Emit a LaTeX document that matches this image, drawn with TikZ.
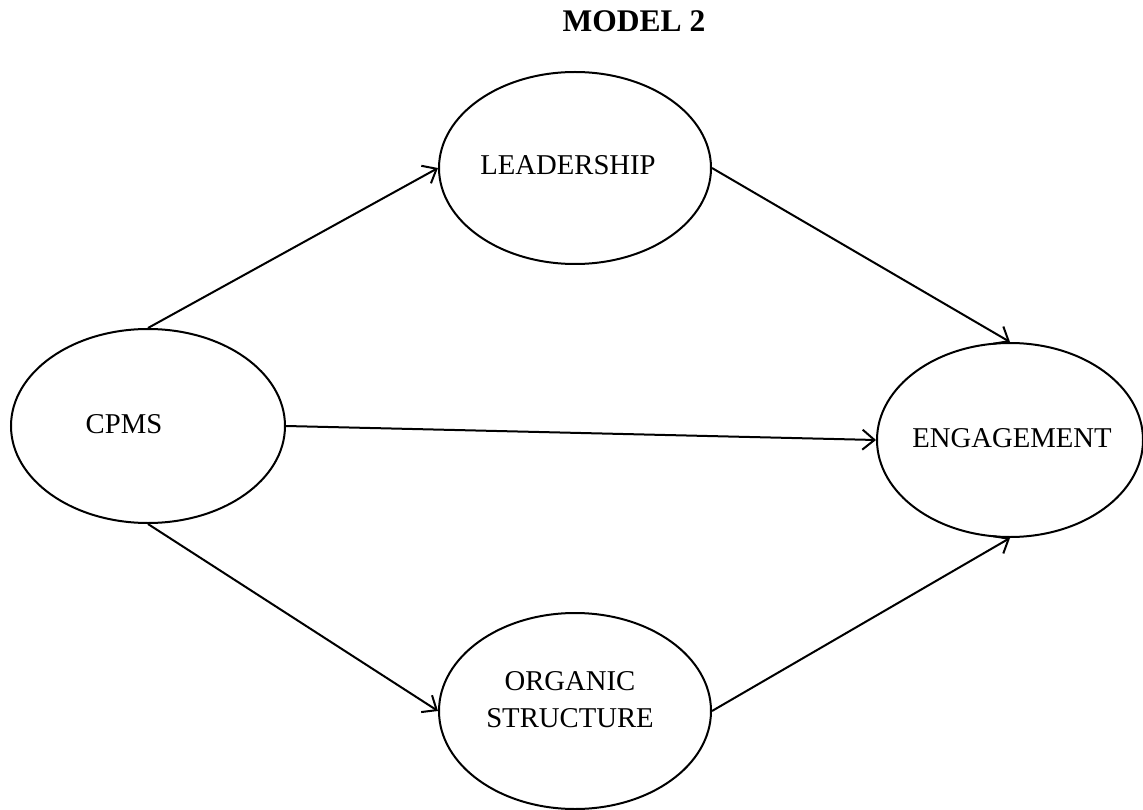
\documentclass[tikz,border=0pt]{standalone}
\usepackage{fontspec}
\setmainfont{Liberation Serif}
\usetikzlibrary{shapes.geometric,arrows.meta}

\tikzset{
  oval/.style={ellipse, draw, line width=2pt, inner sep=0pt},
  lbl/.style={inner sep=0pt, font=\fontsize{28.7}{37}\selectfont, align=center},
  link/.style={line width=2pt, -{Straight Barb[length=12pt,width=20pt,line width=2pt]}}
}

\begin{document}
\begin{tikzpicture}[x=1pt,y=-1pt]
  \useasboundingbox (0,0) rectangle (1143,810);

  % title
  \node[inner sep=0pt, anchor=base, font=\fontsize{31.5}{36}\selectfont\bfseries] (title) at (634,32) {MODEL 2};

  % constructs
  \node[oval, minimum width=274pt, minimum height=194pt] (cpms) at (148,426) {};
  \node[oval, minimum width=272pt, minimum height=192pt] (lead) at (575,168) {};
  \node[oval, minimum width=266pt, minimum height=194pt] (eng) at (1010,440) {};
  \node[oval, minimum width=272pt, minimum height=196pt] (org) at (575,711) {};

  % labels
  \node[lbl, anchor=base] (cpmsT) at (124,433) {CPMS};
  \node[lbl, anchor=base] (leadT) at (568,175) {LEADERSHIP};
  \node[lbl, anchor=base] (engT) at (1012,447) {ENGAGEMENT};
  \node[lbl] (orgT) at (570,700) {ORGANIC\\STRUCTURE};

  % paths
  \draw[link] (cpms.north) -- (lead.west);
  \draw[link] (lead.east) -- (eng.north);
  \draw[link] (cpms.east) -- (eng.west);
  \draw[link] (cpms.south) -- (org.west);
  \draw[link] (org.east) -- (eng.south);
\end{tikzpicture}
\end{document}
